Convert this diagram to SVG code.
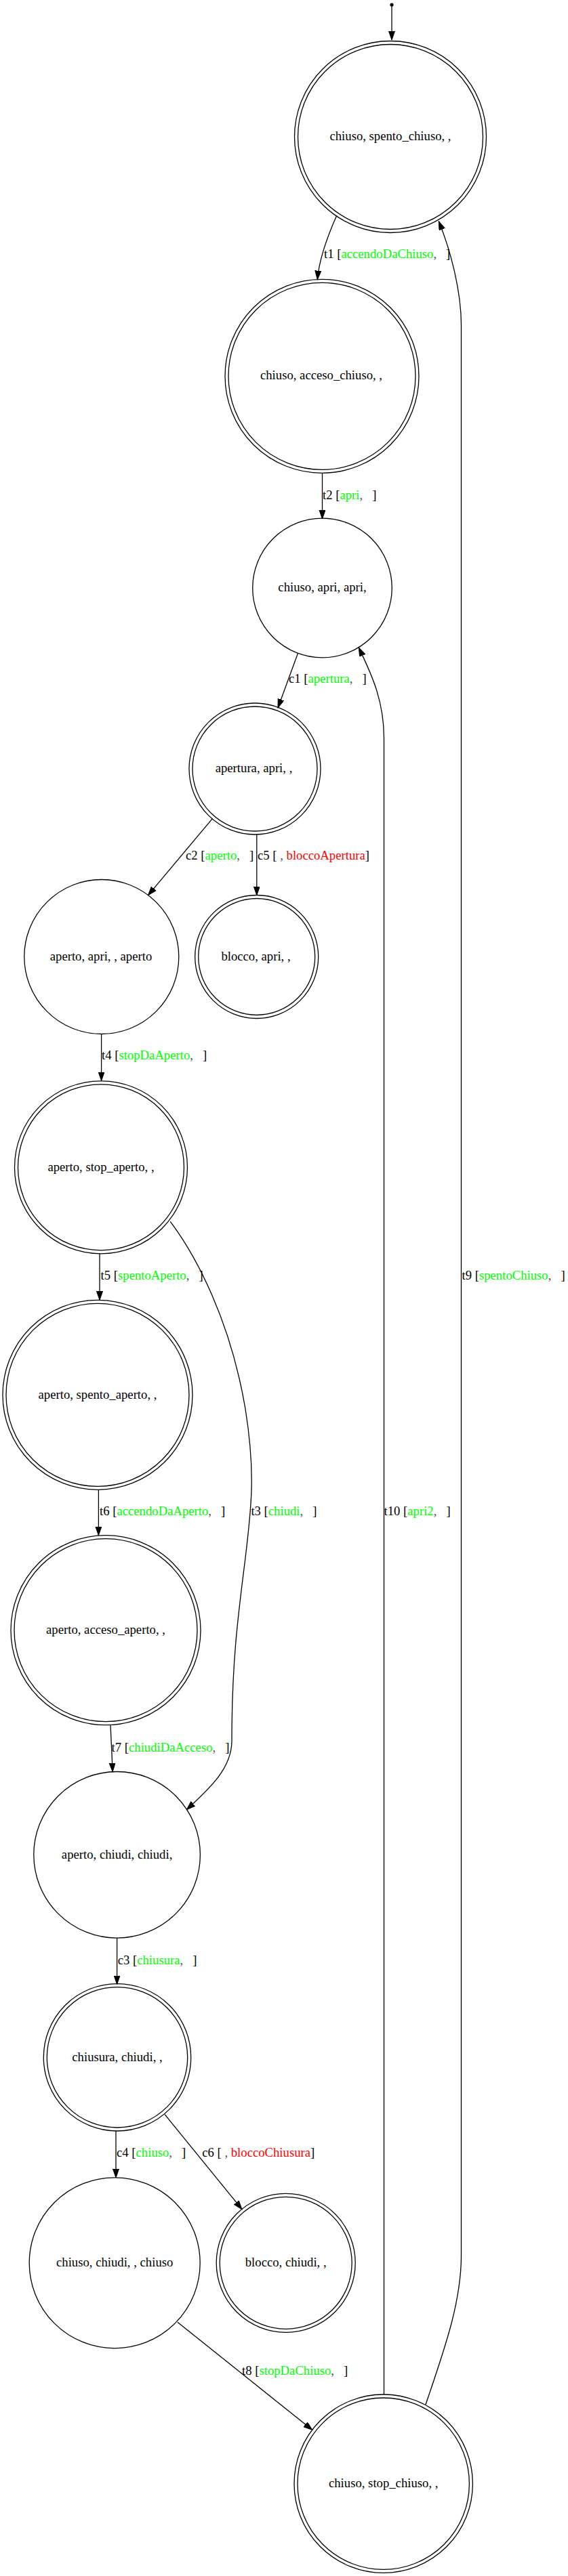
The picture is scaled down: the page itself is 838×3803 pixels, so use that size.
<svg xmlns="http://www.w3.org/2000/svg" width="838" height="3803" viewBox="0 0 838 3803">
<style>
.n{fill:none;stroke:#000;stroke-width:1.3}
.e{fill:none;stroke:#000;stroke-width:1.3}
text{font-family:"Liberation Serif","Times New Roman",serif;font-size:18.7px;fill:#000}
.c{text-anchor:middle}
.g{fill:#00ff00}
.r{fill:#ff0000}
.k{fill:#555}
</style>
<defs>
<marker id="a" markerUnits="userSpaceOnUse" markerWidth="14" markerHeight="10" refX="13" refY="4.5" orient="auto">
<path d="M0,0 L13,4.5 L0,9 z" fill="#000" stroke="#000" stroke-width="1"/>
</marker>
</defs>
<rect width="838" height="3803" fill="#fff"/>
<g id="connectors">
<circle cx="578" cy="7" r="2.6" fill="#000"/>
<path class="e" d="M578,9 L578,59" marker-end="url(#a)"/>
<path class="e" d="M496.7,318.3 C484,347 471,380 468.3,412.7" marker-end="url(#a)"/>
<path class="e" d="M475.5,698.3 L475.5,766" marker-end="url(#a)"/>
<path class="e" d="M439.3,965 L410,1045" marker-end="url(#a)"/>
<path class="e" d="M313.5,1208.3 L218.5,1321.7" marker-end="url(#a)"/>
<path class="e" d="M378.8,1232 L378.8,1321.7" marker-end="url(#a)"/>
<path class="e" d="M149.6,1526 L149.6,1595.5" marker-end="url(#a)"/>
<path class="e" d="M251.2,1803.3 C290,1855 340,1950 362,2080 C378,2180 370,2230 362,2300 C352,2380 342,2450 342,2570 C342,2610 310,2640 275.3,2671.7" marker-end="url(#a)"/>
<path class="e" d="M147,1851 L147,1919.3" marker-end="url(#a)"/>
<path class="e" d="M145.4,2199 L145.4,2266.7" marker-end="url(#a)"/>
<path class="e" d="M163,2546.7 L166.2,2615.7" marker-end="url(#a)"/>
<path class="e" d="M172.6,2861 L172.6,2929.5" marker-end="url(#a)"/>
<path class="e" d="M171,3146 L171,3215" marker-end="url(#a)"/>
<path class="e" d="M243.2,3121.7 L357,3261.7" marker-end="url(#a)"/>
<path class="e" d="M261.9,3428.3 L460.7,3587.3" marker-end="url(#a)"/>
<path class="e" d="M566.5,3535 L566.5,1090 C566.5,1030 545,990 529.3,956" marker-end="url(#a)"/>
<path class="e" d="M628,3550 C655,3470 680.5,3400 680.5,3330 L680.5,480 C680.5,430 665,370 647.3,326.7" marker-end="url(#a)"/>
<text x="478" y="381">t1 [<tspan class="g">accendoDaChiuso</tspan><tspan class="k">,</tspan>&#160;&#160;&#160;]</text>
<text x="476" y="736.5">t2 [<tspan class="g">apri</tspan><tspan class="k">,</tspan>&#160;&#160;&#160;]</text>
<text x="426" y="1008">c1 [<tspan class="g">apertura</tspan><tspan class="k">,</tspan>&#160;&#160;&#160;]</text>
<text x="274" y="1268.5">c2 [<tspan class="g">aperto</tspan><tspan class="k">,</tspan>&#160;&#160;&#160;]</text>
<text x="380" y="1268.5">c5 [&#160;<tspan class="k">,</tspan>&#160;<tspan class="r">bloccoApertura</tspan>]</text>
<text x="150" y="1563.5">t4 [<tspan class="g">stopDaAperto</tspan><tspan class="k">,</tspan>&#160;&#160;&#160;]</text>
<text x="148.6" y="1889">t5 [<tspan class="g">spentoAperto</tspan><tspan class="k">,</tspan>&#160;&#160;&#160;]</text>
<text x="681.5" y="1889">t9 [<tspan class="g">spentoChiuso</tspan><tspan class="k">,</tspan>&#160;&#160;&#160;]</text>
<text x="147" y="2236.5">t6 [<tspan class="g">accendoDaAperto</tspan><tspan class="k">,</tspan>&#160;&#160;&#160;]</text>
<text x="370.4" y="2236.5">t3 [<tspan class="g">chiudi</tspan><tspan class="k">,</tspan>&#160;&#160;&#160;]</text>
<text x="566.5" y="2236.5">t10 [<tspan class="g">apri2</tspan><tspan class="k">,</tspan>&#160;&#160;&#160;]</text>
<text x="164.6" y="2585.5">t7 [<tspan class="g">chiudiDaAcceso</tspan><tspan class="k">,</tspan>&#160;&#160;&#160;]</text>
<text x="173.7" y="2899.5">c3 [<tspan class="g">chiusura</tspan><tspan class="k">,</tspan>&#160;&#160;&#160;]</text>
<text x="172" y="3183.5">c4 [<tspan class="g">chiuso</tspan><tspan class="k">,</tspan>&#160;&#160;&#160;]</text>
<text x="298.2" y="3183.5">c6 [&#160;<tspan class="k">,</tspan>&#160;<tspan class="r">bloccoChiusura</tspan>]</text>
<text x="357" y="3505.5">t8 [<tspan class="g">stopDaChiuso</tspan><tspan class="k">,</tspan>&#160;&#160;&#160;]</text>
</g>
<g id="n1"><circle class="n" cx="576" cy="202" r="141.5"/><circle class="n" cx="576" cy="202" r="136.5"/><text class="c" x="576" y="207">chiuso, spento_chiuso, ,</text></g>
<g id="n2"><circle class="n" cx="475" cy="555.3" r="143"/><circle class="n" cx="475" cy="555.3" r="138"/><text class="c" x="474" y="560">chiuso, acceso_chiuso, ,</text></g>
<g id="n3"><circle class="n" cx="475.5" cy="868" r="102.8"/><text class="c" x="475.5" y="873">chiuso, apri, apri,</text></g>
<g id="n4"><circle class="n" cx="376" cy="1135" r="97"/><circle class="n" cx="376" cy="1135" r="92"/><text class="c" x="374.5" y="1140">apertura, apri, ,</text></g>
<g id="n5"><circle class="n" cx="149.8" cy="1412.5" r="114"/><text class="c" x="149" y="1418">aperto, apri, , aperto</text></g>
<g id="n6"><circle class="n" cx="378.7" cy="1412.5" r="91"/><circle class="n" cx="378.7" cy="1412.5" r="86"/><text class="c" x="377.5" y="1418">blocco, apri, ,</text></g>
<g id="n7"><circle class="n" cx="149" cy="1723.3" r="127.5"/><circle class="n" cx="149" cy="1723.3" r="122.5"/><text class="c" x="149" y="1729">aperto, stop_aperto, ,</text></g>
<g id="n8"><circle class="n" cx="144" cy="2059.3" r="140"/><circle class="n" cx="144" cy="2059.3" r="135"/><text class="c" x="144" y="2065">aperto, spento_aperto, ,</text></g>
<g id="n9"><circle class="n" cx="156" cy="2406.7" r="140"/><circle class="n" cx="156" cy="2406.7" r="135"/><text class="c" x="156" y="2412">aperto, acceso_aperto, ,</text></g>
<g id="n10"><circle class="n" cx="172.6" cy="2738.3" r="122.8"/><text class="c" x="172.6" y="2744">aperto, chiudi, chiudi,</text></g>
<g id="n11"><circle class="n" cx="173" cy="3037.3" r="108.7"/><circle class="n" cx="173" cy="3037.3" r="103.7"/><text class="c" x="173" y="3043">chiusura, chiudi, ,</text></g>
<g id="n12"><circle class="n" cx="169.2" cy="3340.8" r="126"/><text class="c" x="169.2" y="3346">chiuso, chiudi, , chiuso</text></g>
<g id="n13"><circle class="n" cx="421.7" cy="3340.8" r="102.5"/><circle class="n" cx="421.7" cy="3340.8" r="97.5"/><text class="c" x="421.7" y="3346">blocco, chiudi, ,</text></g>
<g id="n14"><circle class="n" cx="565.7" cy="3666.7" r="131.7"/><circle class="n" cx="565.7" cy="3666.7" r="126.7"/><text class="c" x="565.7" y="3672">chiuso, stop_chiuso, ,</text></g>
</svg>
